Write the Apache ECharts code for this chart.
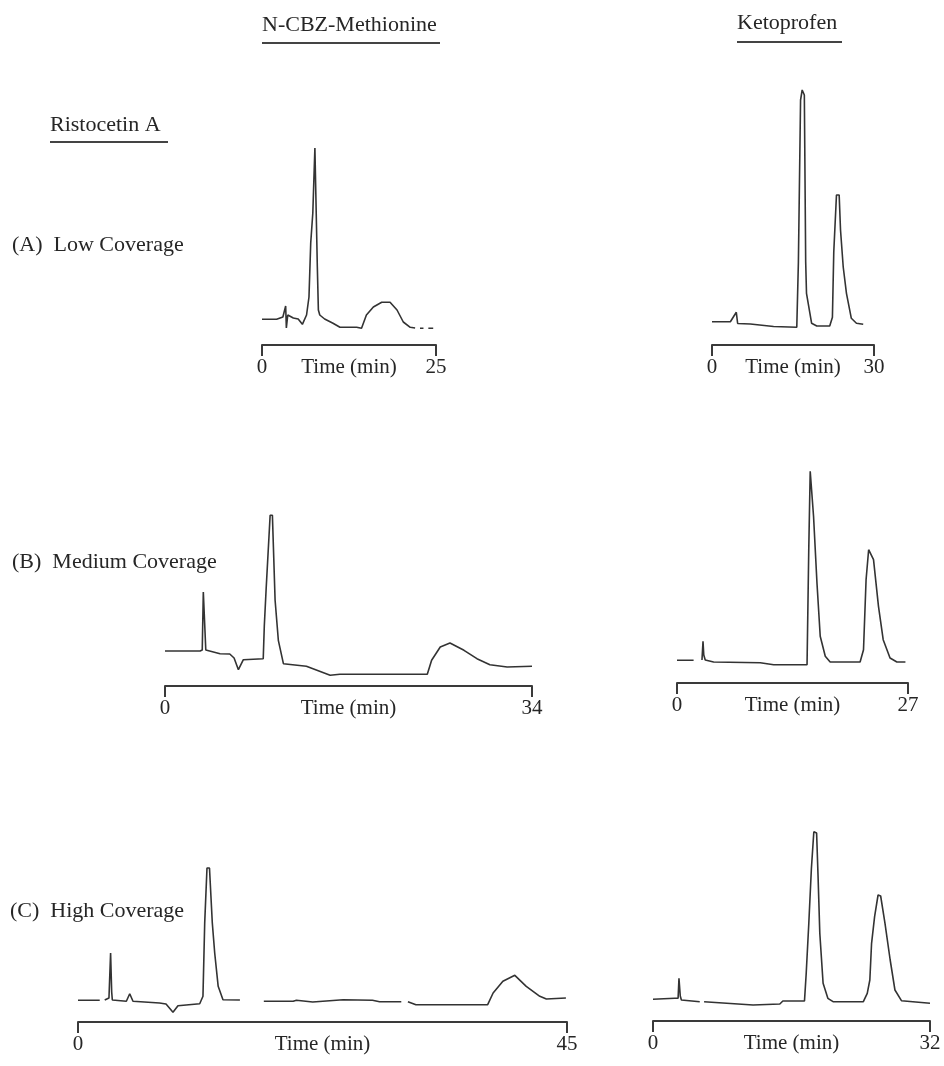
<!DOCTYPE html>
<html>
<head>
<meta charset="utf-8">
<script src="https://cdn.jsdelivr.net/npm/echarts@6/dist/echarts.min.js"></script>
<style>
  html, body { margin: 0; padding: 0; background: #fff; }
  #chart { width: 944px; height: 1066px; }
</style>
</head>
<body>
<div id="chart"></div>
<script>
// time (min) / detector response
// (A) Low coverage
const lowMetT = [0, 2.1, 3.0, 3.4, 3.5, 3.7, 4.5, 5.2, 5.8, 6.4, 6.75, 7.0, 7.3, 7.6, 7.86, 7.95, 8.1, 8.3, 9.0, 10.2, 11.2, 13.6, 14.3, 15.0, 16.0, 17.2, 18.4, 19.4, 20.3, 21.3, 22.0, 22.3, 22.7, 23.2, 23.5, 23.9, 24.6]
const lowMetY = [25.7, 25.7, 28, 39, 17, 30, 27, 26, 20.7, 30, 48, 102, 132, 197, 197, 78, 35, 30, 26, 21.7, 17.7, 17.7, 16.7, 30, 38, 42.7, 42.7, 35, 23, 17.7, 17, null, 16.7, 16.7, null, 16.7, 16.7]
const lowKetoT = [0, 3.4, 4.5, 4.75, 7.1, 11.4, 15.7, 16.0, 16.4, 16.7, 17.1, 17.35, 17.5, 18.45, 19.4, 21.8, 22.3, 22.55, 23.05, 23.55, 23.8, 24.3, 24.9, 25.8, 26.75, 28.0]
const lowKetoY = [23.3, 23.3, 32.7, 21.5, 21, 18.5, 17.7, 83, 245, 255, 250, 83, 51.7, 21.7, 19, 19, 27.7, 93, 150, 150, 115, 78, 51.7, 26.7, 21.7, 20.7]

// (B) Medium coverage
const medMetT = [0, 3.25, 3.45, 3.55, 3.65, 3.78, 5.1, 6.0, 6.4, 6.8, 7.26, 9.1, 9.2, 9.37, 9.74, 9.95, 10.2, 10.5, 10.97, 13.1, 15.3, 16.2, 24.3, 24.7, 25.5, 26.4, 27.7, 28.9, 30.1, 31.7, 34]
const medMetY = [35, 35, 36, 94, 94, 36, 32.3, 32, 28, 16.3, 26.3, 27.3, 60, 97, 170.7, 170.7, 85.7, 45.7, 22.3, 19.7, 10.7, 11.7, 11.7, 25.7, 39, 43, 35.7, 27.3, 21.3, 19, 19.7]
const medKetoT = [0, 1.94, 2.4, 2.92, 3.04, 3.13, 3.3, 4.28, 9.73, 11.3, 15.2, 15.4, 15.57, 15.77, 15.96, 16.36, 16.74, 17.33, 17.9, 21.4, 21.8, 22.1, 22.4, 22.6, 22.97, 23.55, 24.1, 24.9, 25.7, 26.7]
const medKetoY = [22.7, 22.7, null, 23, 41.7, 28, 23, 21, 20.3, 18.3, 18.3, 133.3, 211.7, 211.7, 166.7, 100, 46.7, 26.7, 21, 21, 33.3, 103.3, 133.3, 135, 123.3, 76.7, 43.3, 25, 21, 21]

// (C) High coverage
const highMetT = [0, 2.0, 2.3, 2.46, 2.85, 3.0, 3.1, 3.16, 4.45, 4.76, 5.06, 7.5, 8.1, 8.74, 9.2, 11.2, 11.5, 11.66, 11.87, 12.1, 12.36, 12.58, 12.9, 13.34, 14.9, 16.0, 17.1, 19.8, 20.1, 21.6, 24.4, 27.1, 27.75, 29.75, 30.0, 30.36, 31.1, 37.7, 38.2, 39.1, 40.2, 41.25, 42.5, 43.1, 44.9]
const highMetY = [21.7, 21.7, null, 22, 24, 69, 30, 22, 20.7, 28.3, 20.7, 19, 18, 9.7, 16.3, 18.3, 25.7, 99, 154, 154, 99, 69, 35.7, 22.3, 22, null, 20.7, 20.7, 21.7, 20, 22.3, 21.7, 20.3, 20.3, null, 20.3, 17.3, 17.3, 29, 40.7, 46.7, 35.7, 25.7, 23, 24]
const highKetoT = [0, 2.5, 2.9, 3.0, 3.15, 3.28, 5.4, 5.6, 5.9, 11.56, 14.65, 15.0, 17.5, 17.7, 18.0, 18.3, 18.58, 18.9, 19.07, 19.27, 19.65, 20.2, 20.8, 24.3, 24.75, 25.05, 25.25, 25.6, 26.0, 26.3, 26.8, 27.4, 27.95, 28.7, 32]
const highKetoY = [21.7, 22.7, 22.7, 42.7, 25, 21, 19.3, null, 19.3, 16, 17, 20, 20, 47.7, 97.7, 152.7, 189.3, 188, 144.3, 87.7, 37.7, 22.7, 19.3, 19.3, 27.7, 41, 77.7, 104.3, 126, 125, 97.7, 61, 31, 20.3, 17.7]

// run length of each x axis (min)
const runMax = [25, 30, 34, 27, 45, 32]

const serif = 'Liberation Serif, Times New Roman, serif'
const ink = '#262626'

// panel layout: left, width and axis-line y of each trace
const panels = [
  { t: lowMetT, y: lowMetY, left: 262, width: 174, base: 345 },
  { t: lowKetoT, y: lowKetoY, left: 712, width: 162, base: 345 },
  { t: medMetT, y: medMetY, left: 165, width: 367, base: 686 },
  { t: medKetoT, y: medKetoY, left: 677, width: 231, base: 683 },
  { t: highMetT, y: highMetY, left: 78, width: 489, base: 1022 },
  { t: highKetoT, y: highKetoY, left: 653, width: 277, base: 1021 }
]
const yTop = 260

const grid = [], xAxis = [], yAxis = [], series = []
panels.forEach((p, i) => {
  grid.push({
    left: p.left, width: p.width, top: p.base - yTop, height: yTop,
    containLabel: false, outerBoundsMode: 'none'
  })
  xAxis.push({
    gridIndex: i, type: 'value', min: 0, max: runMax[i], interval: runMax[i],
    name: 'Time (min)', nameLocation: 'middle', nameGap: 12, nameMoveOverlap: false,
    nameTextStyle: { fontFamily: serif, fontSize: 21, color: ink, verticalAlign: 'top' },
    axisLine: { show: true, lineStyle: { color: '#3a3a3a', width: 2 } },
    axisTick: { show: true, length: 11, lineStyle: { color: '#3a3a3a', width: 2 } },
    axisLabel: { margin: 12, fontFamily: serif, fontSize: 21, color: ink },
    splitLine: { show: false }
  })
  yAxis.push({ gridIndex: i, type: 'value', min: 0, max: yTop, show: false })
  series.push({
    type: 'line', xAxisIndex: i, yAxisIndex: i,
    data: p.t.map((t, k) => [t, p.y[k]]),
    showSymbol: false, connectNulls: false,
    lineStyle: { color: '#333', width: 1.6 }
  })
})

function label(text, x, y) {
  return { type: 'text', x: x, y: y, style: { text: text, font: '22px ' + serif, fill: ink, verticalAlign: 'middle' } }
}
function underline(x1, x2, y) {
  return { type: 'line', shape: { x1: x1, y1: y, x2: x2, y2: y }, style: { stroke: '#444', lineWidth: 2 } }
}

const chart = echarts.init(document.getElementById('chart'))
chart.setOption({
  animation: false,
  grid: grid,
  xAxis: xAxis,
  yAxis: yAxis,
  series: series,
  graphic: [
    label('N-CBZ-Methionine', 262, 25),
    underline(262, 440, 43),
    label('Ketoprofen', 737, 23),
    underline(737, 842, 42),
    label('Ristocetin A', 50, 125),
    underline(50, 168, 142),
    label('(A)  Low Coverage', 12, 245),
    label('(B)  Medium Coverage', 12, 562),
    label('(C)  High Coverage', 10, 911)
  ]
})
</script>
</body>
</html>
